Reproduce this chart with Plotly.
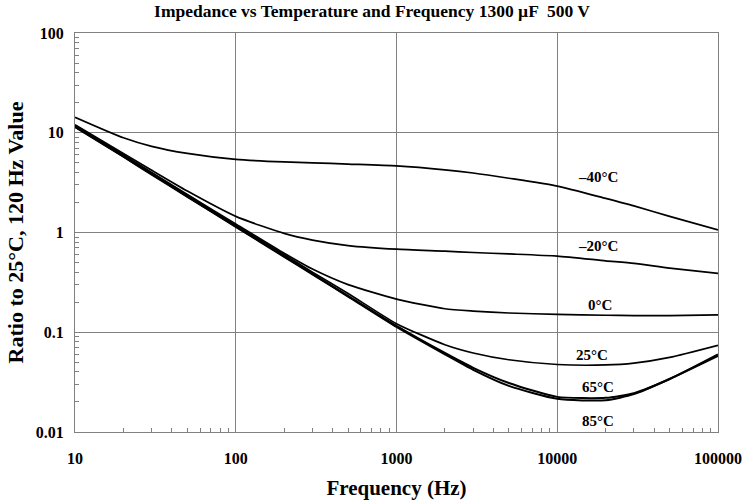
import plotly.graph_objects as go
import math

freq = [10, 20, 30, 50, 100, 200, 300, 500, 1000, 2000, 3000, 5000, 10000, 20000, 30000, 50000, 100000]

t_m40 = [14.3, 8.9, 7.3, 6.2, 5.4, 5.1, 5.0, 4.85, 4.65, 4.25, 3.95, 3.5, 2.92, 2.2, 1.85, 1.45, 1.06]
t_m20 = [12.0, 6.2, 4.2, 2.6, 1.45, 0.98, 0.84, 0.74, 0.68, 0.65, 0.63, 0.61, 0.58, 0.52, 0.49, 0.44, 0.39]
t_0 = [11.8, 6.0, 4.0, 2.4, 1.22, 0.62, 0.43, 0.30, 0.215, 0.172, 0.163, 0.156, 0.151, 0.148, 0.147, 0.147, 0.149]
t_25 = [11.6, 5.9, 3.9, 2.35, 1.18, 0.60, 0.40, 0.245, 0.122, 0.075, 0.062, 0.053, 0.0475, 0.047, 0.049, 0.056, 0.074]
t_65 = [11.5, 5.8, 3.85, 2.3, 1.15, 0.58, 0.385, 0.232, 0.116, 0.062, 0.044, 0.031, 0.0225, 0.022, 0.0245, 0.034, 0.060]
t_85 = [11.4, 5.75, 3.8, 2.28, 1.14, 0.57, 0.38, 0.228, 0.113, 0.060, 0.042, 0.029, 0.0215, 0.0208, 0.024, 0.034, 0.058]

series = [
    ("\u201340\u00b0C", t_m40, 1.7),
    ("\u201320\u00b0C", t_m20, 1.7),
    ("0\u00b0C", t_0, 1.7),
    ("25\u00b0C", t_25, 1.7),
    ("65\u00b0C", t_65, 2.0),
    ("85\u00b0C", t_85, 2.0),
]

# label positions (frequency, value)
label_x = [17800, 17800, 18500, 16500, 17800, 17800]
label_y = [3.6, 0.73, 0.187, 0.059, 0.0283, 0.0129]

font_fam = "Liberation Serif"

fig = go.Figure()
for (name, vals, w) in series:
    fig.add_trace(go.Scatter(x=freq, y=vals, mode="lines", name=name,
                             line=dict(color="black", width=w, shape="spline", smoothing=0.6),
                             showlegend=False))

for (name, _, _), lx, ly in zip(series, label_x, label_y):
    fig.add_annotation(x=math.log10(lx), y=math.log10(ly), text="<b>" + name + "</b>", showarrow=False,
                       font=dict(family=font_fam, size=15, color="black"),
                       xanchor="center", yanchor="middle")

minor_x = [m * 10 ** d for d in range(1, 5) for m in range(2, 10)]
minor_y = [m * 10 ** d for d in range(-2, 2) for m in range(2, 10)]

fig.update_layout(
    width=744, height=502,
    margin=dict(l=75, r=26, t=33, b=70, autoexpand=False),
    paper_bgcolor="white", plot_bgcolor="white",
    title=dict(text="<b>Impedance vs Temperature and Frequency 1300 \u00b5F  500 V</b>",
               x=0.5, xanchor="center", y=0.99, yanchor="top",
               font=dict(family=font_fam, size=17.5, color="black")),
    font=dict(family=font_fam, color="black"),
)
fig.update_xaxes(type="log", range=[1, 5], automargin=False,
                 tickvals=[10, 100, 1000, 10000, 100000],
                 ticktext=["<b>10</b>", "<b>100</b>", "<b>1000</b>", "<b>10000</b>", "<b>100000</b>"],
                 tickfont=dict(family=font_fam, size=16, color="black"),
                 ticks="", ticklabelstandoff=12,
                 showgrid=True, gridcolor="#808080", gridwidth=1,
                 showline=True, linecolor="#808080", linewidth=1, mirror=True,
                 minor=dict(tickmode="array", tickvals=minor_x, ticks="inside", ticklen=4,
                            tickcolor="#808080", showgrid=False),
                 title=dict(text="<b>Frequency (Hz)</b>", font=dict(family=font_fam, size=21, color="black"),
                            standoff=14))
fig.update_yaxes(type="log", range=[-2, 2], automargin=False,
                 tickvals=[0.01, 0.1, 1, 10, 100],
                 ticktext=["<b>0.01</b>", "<b>0.1</b>", "<b>1</b>", "<b>10</b>", "<b>100</b>"],
                 tickfont=dict(family=font_fam, size=16, color="black"),
                 ticks="", ticklabelstandoff=7,
                 showgrid=True, gridcolor="#808080", gridwidth=1,
                 showline=True, linecolor="#808080", linewidth=1, mirror=True,
                 minor=dict(tickmode="array", tickvals=minor_y, ticks="inside", ticklen=4,
                            tickcolor="#808080", showgrid=False),
                 title=dict(text="<b>Ratio to 25\u00b0C, 120 Hz Value</b>", font=dict(family=font_fam, size=22, color="black"),
                            standoff=6))

fig.write_html("out.html", config={"displayModeBar": False},
               post_script="document.body.style.margin='0';document.body.style.overflow='hidden';")
